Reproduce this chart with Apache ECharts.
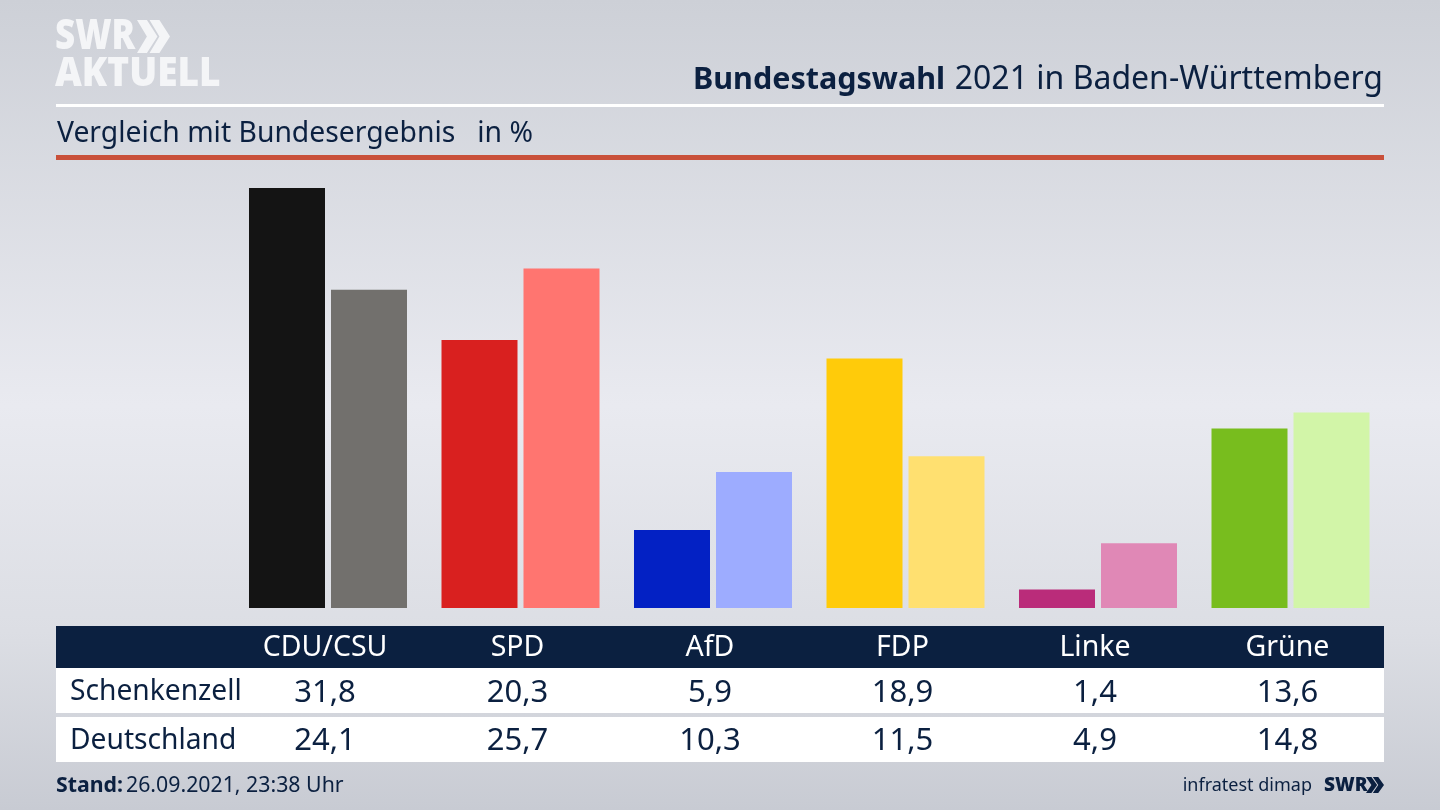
<!DOCTYPE html>
<html>
<head>
<meta charset="utf-8">
<style>
html,body{margin:0;padding:0;background:#d0d3da;}
#main{width:1440px;height:810px;}
</style>
<script src="https://cdn.jsdelivr.net/npm/echarts@6/dist/echarts.min.js"></script>
</head>
<body>
<div id="main"></div>
<script>
var parties = ['CDU/CSU', 'SPD', 'AfD', 'FDP', 'Linke', 'Grüne'];
var schenkenzell = [31.8, 20.3, 5.9, 18.9, 1.4, 13.6];
var deutschland = [24.1, 25.7, 10.3, 11.5, 4.9, 14.8];
var coloursLocal = ['#141414', '#d9201f', '#0321c4', '#ffcb0a', '#ba2c7a', '#78bd1e'];
var coloursBund = ['#72706d', '#ff7570', '#9dacff', '#ffe070', '#e088b6', '#d2f5a8'];

var navy = '#0b2040';
var font = '"Noto Sans", sans-serif';
var myChart = echarts.init(document.getElementById('main'));

function komma(v){
	return v.toFixed(1).replace('.', ',');
}

// eine Tabellenzeile ist ein eigenes grid mit eigener Kategorieachse
function row_grid(y){
	return {left: 228.75, width: 1155, top: y, height: 1};
}
function row_axis(index, labels, color, size){
	return {
		type: 'category', gridIndex: index, data: labels,
		axisLine: {show: false}, axisTick: {show: false},
		axisLabel: {color: color, fontSize: size, fontFamily: font, margin: 0, verticalAlign: 'middle', interval: 0}
	};
}
function row_y(index){
	return {type: 'value', gridIndex: index, show: false};
}
function rect(x, y, w, h, color){
	return {type: 'rect', z: -1, silent: true, shape: {x: x, y: y, width: w, height: h}, style: {fill: color}};
}
function txt(x, y, text, size, color, weight, align){
	return {type: 'text', x: x, y: y, silent: true, style: {
		text: text, fontSize: size, fill: color, fontFamily: font, fontWeight: weight || 'normal',
		align: align || 'left', verticalAlign: 'middle'
	}};
}
function logo(x, y, text, size, scaleY){
	var t = txt(x, 0, text, size, '#f4f5f7', 900);
	t.y = y;
	t.scaleY = scaleY;
	return t;
}
function chevrons(x, y, w, h, color){
	var one = function(dx){
		return {type: 'polygon', silent: true, shape: {points: [
			[x + dx, y], [x + dx + w * 0.3, y], [x + dx + w * 0.62, y + h / 2],
			[x + dx + w * 0.3, y + h], [x + dx, y + h], [x + dx + w * 0.3, y + h / 2]
		]}, style: {fill: color}};
	};
	return [one(0), one(w * 0.38)];
}

var option = {
	animation: false,
	backgroundColor: {
		type: 'linear', x: 0, y: 0, x2: 0, y2: 1,
		colorStops: [
			{offset: 0, color: '#cdd0d7'},
			{offset: 0.5, color: '#e9eaf0'},
			{offset: 0.78, color: '#dcdee4'},
			{offset: 1, color: '#c8cbd3'}
		]
	},
	grid: [
		{left: 231.75, width: 1155, top: 159, bottom: 202},
		row_grid(647), row_grid(692), row_grid(740)
	],
	xAxis: [
		{type: 'category', gridIndex: 0, data: parties, show: false},
		row_axis(1, parties, '#ffffff', 28.5),
		row_axis(2, schenkenzell.map(komma), navy, 31),
		row_axis(3, deutschland.map(komma), navy, 31)
	],
	yAxis: [
		{type: 'value', gridIndex: 0, min: 0, max: 34, show: false},
		row_y(1), row_y(2), row_y(3)
	],
	series: [
		{
			name: 'Schenkenzell', type: 'bar', barWidth: 76, barGap: '7.9%',
			data: schenkenzell.map(function(v, i){ return {value: v, itemStyle: {color: coloursLocal[i]}}; })
		},
		{
			name: 'Deutschland', type: 'bar', barWidth: 76,
			data: deutschland.map(function(v, i){ return {value: v, itemStyle: {color: coloursBund[i]}}; })
		}
	],
	graphic: [
		rect(56, 104, 1328, 3, '#ffffff'),
		rect(56, 155, 1328, 5, '#c9503a'),
		rect(56, 626, 1328, 42, navy),
		rect(56, 668, 1328, 45, '#ffffff'),
		rect(56, 717, 1328, 45, '#ffffff'),
		logo(55, 37, 'SWR', 35, 1.2),
		logo(55, 74, 'AKTUELL', 37, 1.1),
		txt(57, 134, 'Vergleich mit Bundesergebnis   in %', 28.3, navy),
		txt(693, 80, 'Bundestagswahl', 30.5, navy, 'bold'),
		txt(1383, 80, '2021 in Baden-Württemberg', 32, navy, 'normal', 'right'),
		txt(70, 692, 'Schenkenzell', 28.2, navy),
		txt(70, 741, 'Deutschland', 28.2, navy),
		txt(56, 786, 'Stand:', 21.3, navy, 'bold'),
		txt(126, 786, '26.09.2021, 23:38 Uhr', 21.3, navy),
		txt(1312, 786, 'infratest dimap', 18, navy, 'normal', 'right'),
		txt(1324, 786, 'SWR', 19, navy, 900)
	].concat(chevrons(137, 20, 33, 33, '#f4f5f7'), chevrons(1366, 777, 18, 16, navy))
};
myChart.setOption(option);
</script>
</body>
</html>
